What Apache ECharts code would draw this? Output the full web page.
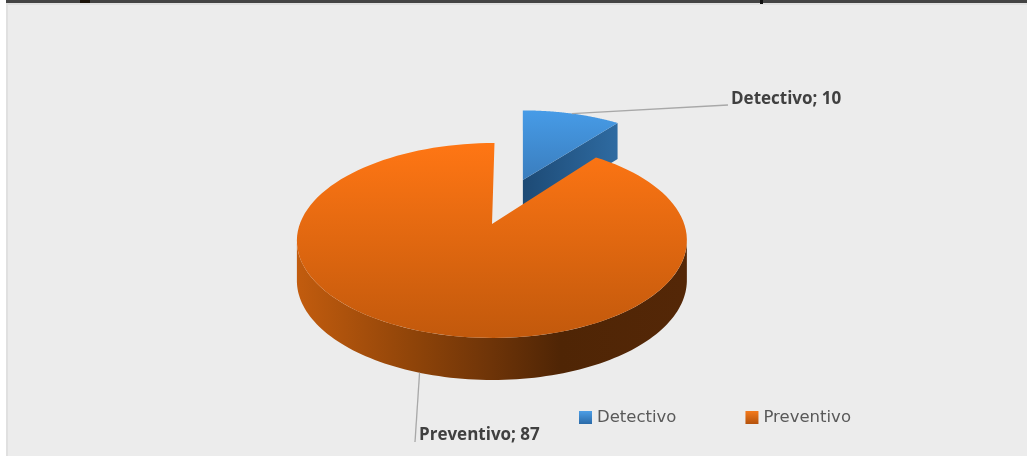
<!DOCTYPE html>
<html><head><meta charset="utf-8">
<style>html,body{margin:0;padding:0;background:#fff}#c{width:1027px;height:456px}</style>
<script src="https://cdn.jsdelivr.net/npm/echarts@6/dist/echarts.min.js"></script>
</head><body><div id="c"></div>
<script>
const categories = ['Detectivo', 'Preventivo'];
const values = [10, 87];

const total = values.reduce((a, b) => a + b, 0);
const chart = echarts.init(document.getElementById('c'));
const G = (x0, y0, x1, y1, stops) => new echarts.graphic.LinearGradient(x0, y0, x1, y1,
  stops.map((c, i) => Array.isArray(c) ? { offset: c[0], color: c[1] } : { offset: i / (stops.length - 1), color: c }), true);

// perspective projection of the unit pie disc onto the screen
const CX = 492, CY = 224, KX = 192.2, KY = 94.7, P = 0.169;
const proj = (X, Y) => {
  const d = 1 + P * Y;
  return [CX + KX * X / d + Y + 1.5 * Y * Y, CY - KY * Y / d];
};
const thick = Y => 39.4 - 2.6 * Y;
const rad = d => d * Math.PI / 180;

const cfg = {
  Detectivo: {
    explode: 0.532,
    top: G(0, 109, 0, 180, ['#479ce8', '#3a7dbd']),
    side: G(523, 0, 621, 0, ['#1d4a75', '#2f6ca3']),
    label: [731, 99], leadEnd: [728, 105]
  },
  Preventivo: {
    explode: 0,
    top: G(0, 143, 0, 338, ['#ff7614', '#c2590c']),
    side: G(297, 0, 685, 0, [[0, '#c25c0e'], [0.3, '#8f4409'], [0.5, '#6e3408'], [0.68, '#4f2505'], [1, '#542707']]),
    label: [419, 435], leadEnd: [415, 442]
  }
};

function renderSlice(params, api) {
  const i = params.seriesIndex;
  const name = categories[i];
  const c = cfg[name];
  const start = values.slice(0, i).reduce((a, b) => a + b, 0) / total * 360;
  const sweep = api.value(0) / total * 360;
  const end = start + sweep, mid = start + sweep / 2;
  const ox = c.explode * Math.sin(rad(mid)), oy = c.explode * Math.cos(rad(mid));
  const rim = t => [ox + Math.sin(rad(t)), oy + Math.cos(rad(t))];
  const rimPts = [];
  for (let t = start; t <= end + 1e-6; t += sweep / 120) rimPts.push(proj(...rim(t)));
  const apex = proj(ox, oy);
  const down = (X, Y) => { const p = proj(X, Y); return [p[0], p[1] + thick(Y)]; };
  const children = [];
  if (c.explode > 0) {
    const e = rim(end);
    children.push({ type: 'polygon', shape: { points: [apex, proj(...e), down(...e), down(ox, oy)] }, style: { fill: c.side } });
  } else {
    const up = [], low = [];
    for (let t = 99; t <= 261; t += 1.5) {
      const r = rim(t);
      up.push(proj(...r)); low.unshift(down(...r));
    }
    children.push({ type: 'polygon', shape: { points: up.concat(low) }, style: { fill: c.side } });
  }
  children.push({ type: 'polygon', shape: { points: [apex].concat(rimPts) }, style: { fill: c.top } });
  const m = rim(mid);
  const anchor = c.explode > 0 ? proj(...m) : down(...m);
  children.push({ type: 'line', z2: 5, shape: { x1: anchor[0], y1: anchor[1], x2: c.leadEnd[0], y2: c.leadEnd[1] },
    style: { stroke: '#a8a8a8', lineWidth: 1.3 } });
  children.push({ type: 'text', z2: 6, x: c.label[0], y: c.label[1],
    style: { text: name + '; ' + api.value(0), fill: '#404040', font: 'bold 17px "Open Sans"', textAlign: 'left', textVerticalAlign: 'middle' } });
  return { type: 'group', children };
}

chart.setOption({
  animation: false,
  backgroundColor: '#ececec',
  graphic: [
    { type: 'rect', silent: true, shape: { x: 0, y: 0, width: 6, height: 456 }, style: { fill: '#ffffff' } },
    { type: 'rect', silent: true, shape: { x: 6, y: 0, width: 2, height: 456 }, style: { fill: '#e0e0e0' } },
    { type: 'rect', silent: true, shape: { x: 6, y: 3, width: 1021, height: 2 }, style: { fill: '#e0e0e0' } },
    { type: 'rect', silent: true, shape: { x: 6, y: 0, width: 1021, height: 3 }, style: { fill: '#444444' } },
    { type: 'rect', silent: true, shape: { x: 80, y: 0, width: 10, height: 3 }, style: { fill: '#1a1208' } },
    { type: 'rect', silent: true, shape: { x: 760, y: 0, width: 3, height: 4 }, style: { fill: '#111111' } }
  ],
  legend: {
    left: 574, top: 404, itemWidth: 13, itemHeight: 13, itemGap: 69,
    icon: 'rect',
    data: categories,
    textStyle: { color: '#595959', fontFamily: 'DejaVu Sans', fontSize: 16.5 }
  },
  series: categories.map((name, i) => ({
    type: 'custom',
    name,
    coordinateSystem: 'none',
    renderItem: renderSlice,
    data: [values[i]],
    z: i + 2,
    itemStyle: { color: i === 0 ? new echarts.graphic.LinearGradient(0, 0, 0, 1, [{ offset: 0, color: '#4d9ee6' }, { offset: 1, color: '#2a6aa8' }])
      : new echarts.graphic.LinearGradient(0, 0, 0, 1, [{ offset: 0, color: '#f47a1c' }, { offset: 1, color: '#b4520c' }]) }
  }))
});
</script></body></html>
